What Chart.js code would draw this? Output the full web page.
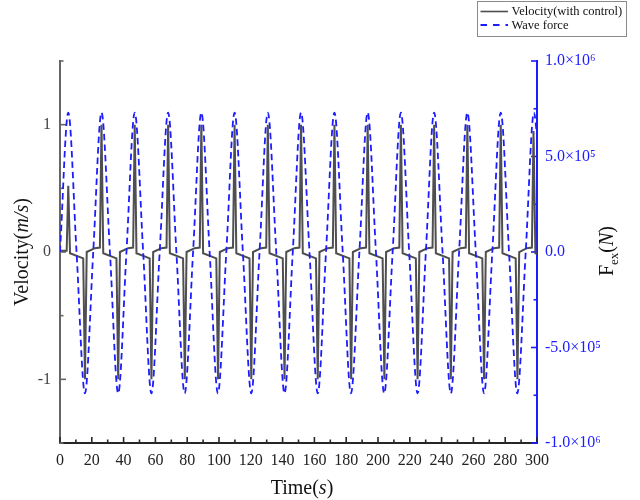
<!DOCTYPE html>
<html>
<head>
<meta charset="utf-8">
<script src="https://cdn.jsdelivr.net/npm/chart.js@4/dist/chart.umd.min.js"></script>
<style>
  html, body { margin: 0; padding: 0; background: #fff; }
  canvas { display: block; }
</style>
</head>
<body>
<canvas id="chart" width="640" height="500"></canvas>
<script>
// Heave velocity under latching control (m/s) and the excitation wave force (N) over 300 s.

// Velocity with control: time (s) and value (m/s)
const velTime = [
  0, 4.2, 5.2, 6.3, 14.6, 15.7, 16.8,
  21.9, 25.1, 26.1, 27.2, 35.5, 36.6, 37.7,
  42.8, 46.0, 47.0, 48.1, 56.4, 57.5, 58.6,
  63.8, 67.0, 68.0, 69.1, 77.4, 78.5, 79.6,
  84.7, 87.9, 88.9, 90.0, 98.3, 99.4, 100.5,
  105.6, 108.8, 109.8, 110.9, 119.2, 120.3, 121.4,
  126.5, 129.7, 130.7, 131.8, 140.1, 141.2, 142.3,
  147.4, 150.6, 151.6, 152.7, 161.0, 162.1, 163.2,
  168.4, 171.6, 172.6, 173.7, 182.0, 183.1, 184.2,
  189.3, 192.5, 193.5, 194.6, 202.9, 204.0, 205.1,
  210.2, 213.4, 214.4, 215.5, 223.8, 224.9, 226.0,
  231.1, 234.3, 235.3, 236.4, 244.7, 245.8, 246.9,
  252.0, 255.2, 256.2, 257.3, 265.6, 266.7, 267.8,
  273.0, 276.2, 277.2, 278.3, 286.6, 287.7, 288.8,
  293.6, 296.8, 297.8, 299.0, 300
];
const velValue = [
  0.01, 0.01, 0.52, -0.01, -0.05, -1.0, 0.0,
  0.03, 0.035, 1.0, -0.01, -0.05, -1.0, 0.0,
  0.03, 0.035, 1.0, -0.01, -0.05, -1.0, 0.0,
  0.03, 0.035, 1.0, -0.01, -0.05, -1.0, 0.0,
  0.03, 0.035, 1.0, -0.01, -0.05, -1.0, 0.0,
  0.03, 0.035, 1.0, -0.01, -0.05, -1.0, 0.0,
  0.03, 0.035, 1.0, -0.01, -0.05, -1.0, 0.0,
  0.03, 0.035, 1.0, -0.01, -0.05, -1.0, 0.0,
  0.03, 0.035, 1.0, -0.01, -0.05, -1.0, 0.0,
  0.03, 0.035, 1.0, -0.01, -0.05, -1.0, 0.0,
  0.03, 0.035, 1.0, -0.01, -0.05, -1.0, 0.0,
  0.03, 0.035, 1.0, -0.01, -0.05, -1.0, 0.0,
  0.03, 0.035, 1.0, -0.01, -0.05, -1.0, 0.0,
  0.03, 0.035, 1.0, -0.01, -0.05, -1.0, 0.0,
  0.03, 0.035, 0.95, -0.01, -0.015
];

// Wave force: crests, troughs and zero crossings, time (s) and value (N)
const forceTime = [
  0, 5.2, 10.4, 15.7, 20.9, 26.1, 31.4, 36.6, 41.8, 47.0, 52.3, 57.5, 62.7,
  68.0, 73.2, 78.4, 83.7, 88.9, 94.1, 99.3, 104.6, 109.8, 115.0, 120.3, 125.5,
  130.7, 136.0, 141.2, 146.4, 151.6, 156.9, 162.1, 167.3, 172.6, 177.8, 183.0,
  188.3, 193.5, 198.7, 203.9, 209.2, 214.4, 219.6, 224.9, 230.1, 235.3, 240.6,
  245.8, 251.0, 256.2, 261.5, 266.7, 271.9, 277.2, 282.4, 287.6, 292.9, 298.1, 300
];
const forceValue = [
  0, 7.3e5, 0, -7.4e5, 0, 7.3e5, 0, -7.4e5, 0, 7.3e5, 0, -7.4e5, 0,
  7.3e5, 0, -7.4e5, 0, 7.3e5, 0, -7.4e5, 0, 7.3e5, 0, -7.4e5, 0,
  7.3e5, 0, -7.4e5, 0, 7.3e5, 0, -7.4e5, 0, 7.3e5, 0, -7.4e5,
  0, 7.3e5, 0, -7.4e5, 0, 7.3e5, 0, -7.4e5, 0, 7.3e5, 0,
  -7.4e5, 0, 7.3e5, 0, -7.4e5, 0, 7.3e5, 0, -7.4e5, 0, 7.3e5, 6.1e5
];

// Tick labels
const timeTicks = [0, 20, 40, 60, 80, 100, 120, 140, 160, 180, 200, 220, 240, 260, 280, 300];
const velTicks = [-1, 0, 1];
const velTickLabels = ['-1', '0', '1'];
const forceTicks = [-1e6, -5e5, 0, 5e5, 1e6];
const forceTickLabels = ['-1.0×10⁶', '-5.0×10⁵', '0.0', '5.0×10⁵', '1.0×10⁶'];

const SERIF = "'Liberation Serif', 'Times New Roman', serif";
const VEL_COLOR = '#4f4f4f';
const FORCE_COLOR = 'rgb(28,28,255)';
const AXIS_GREY = '#666666';
const AXIS_DARK = '#262626';

function labelFor(values, labels, v) {
  const i = values.findIndex(t => Math.abs(t - v) < 1e-6 * Math.max(1, Math.abs(t)));
  return i >= 0 ? labels[i] : '';
}

// Inward tick marks (major + minor) on the three axes
const innerTicks = {
  id: 'innerTicks',
  beforeDatasetsDraw(chart) {
    const { ctx, chartArea: a, scales } = chart;
    const marks = (scale, minorStep, majorStep, draw) => {
      const n = Math.round((scale.max - scale.min) / minorStep);
      for (let i = 0; i <= n; i++) {
        const v = scale.min + i * minorStep;
        const major = Math.abs(Math.round(v / majorStep) * majorStep - v) < minorStep * 1e-3;
        draw(scale.getPixelForValue(v), major ? 6 : 3.5);
      }
    };
    ctx.save();
    ctx.lineWidth = 1.6;
    ctx.strokeStyle = AXIS_DARK;
    marks(scales.x, 10, 20, (p, len) => {
      ctx.beginPath(); ctx.moveTo(p, a.bottom); ctx.lineTo(p, a.bottom - len); ctx.stroke();
    });
    ctx.strokeStyle = AXIS_GREY;
    marks(scales.y, 0.5, 1, (p, len) => {
      ctx.beginPath(); ctx.moveTo(a.left, p); ctx.lineTo(a.left + len, p); ctx.stroke();
    });
    ctx.strokeStyle = FORCE_COLOR;
    marks(scales.y2, 2.5e5, 5e5, (p, len) => {
      ctx.beginPath(); ctx.moveTo(a.right, p); ctx.lineTo(a.right - len, p); ctx.stroke();
    });
    ctx.restore();
  }
};

function drawRuns(ctx, runs, cx, cy, angle) {
  ctx.save();
  ctx.translate(cx, cy);
  ctx.rotate(angle);
  let total = 0;
  runs.forEach(r => { ctx.font = r.font; r.w = ctx.measureText(r.text).width; total += r.w; });
  let x = -total / 2;
  ctx.textAlign = 'left';
  ctx.textBaseline = 'alphabetic';
  runs.forEach(r => {
    ctx.font = r.font;
    ctx.fillStyle = r.color || '#111';
    ctx.fillText(r.text, x, 7 + (r.dy || 0));
    x += r.w;
  });
  ctx.restore();
}

// Axis titles with italic units and subscript
const axisTitles = {
  id: 'axisTitles',
  afterDraw(chart) {
    const ctx = chart.ctx;
    const up = `20px ${SERIF}`;
    const it = `italic 20px ${SERIF}`;
    drawRuns(ctx, [
      { text: 'Velocity(', font: up },
      { text: 'm/s', font: it },
      { text: ')', font: up }
    ], 21, 252, -Math.PI / 2);
    drawRuns(ctx, [
      { text: 'Time(', font: up },
      { text: 's', font: it },
      { text: ')', font: up }
    ], 302, 487, 0);
    drawRuns(ctx, [
      { text: 'F', font: up },
      { text: 'ex', font: `13px ${SERIF}`, dy: 5 },
      { text: '(', font: up },
      { text: 'N', font: it },
      { text: ')', font: up }
    ], 606, 251, -Math.PI / 2);
  }
};

// Framed legend in the top-right corner
const boxLegend = {
  id: 'boxLegend',
  afterDraw(chart) {
    const ctx = chart.ctx;
    const ds = chart.data.datasets;
    ctx.save();
    ctx.strokeStyle = '#8a8a8a';
    ctx.lineWidth = 1;
    ctx.strokeRect(477.5, 1.5, 149, 35);
    const rows = [11.5, 25];
    ds.forEach((d, i) => {
      const y = rows[i];
      ctx.beginPath();
      ctx.setLineDash(d.borderDash ? [6.5, 6] : []);
      ctx.strokeStyle = d.borderColor;
      ctx.lineWidth = d.borderDash ? 1.8 : 1.6;
      ctx.moveTo(480.5, y);
      ctx.lineTo(508, y);
      ctx.stroke();
      ctx.setLineDash([]);
      ctx.fillStyle = '#111';
      ctx.font = `12.5px ${SERIF}`;
      ctx.textAlign = 'left';
      ctx.textBaseline = 'middle';
      ctx.fillText(d.label, 511.5, y + 0.5);
    });
    ctx.restore();
  }
};

const velPoints = velTime.map((t, i) => ({ x: t, y: velValue[i] }));
const forcePoints = forceTime.map((t, i) => ({ x: t, y: forceValue[i] }));

new Chart(document.getElementById('chart'), {
  type: 'line',
  data: {
    datasets: [
      {
        label: 'Velocity(with control)',
        data: velPoints,
        yAxisID: 'y',
        borderColor: VEL_COLOR,
        borderWidth: 2,
        pointRadius: 0,
        tension: 0,
        order: 1
      },
      {
        label: 'Wave force',
        data: forcePoints,
        yAxisID: 'y2',
        borderColor: FORCE_COLOR,
        borderWidth: 1.8,
        borderDash: [6.5, 4],
        pointRadius: 0,
        cubicInterpolationMode: 'monotone',
        order: 0
      }
    ]
  },
  options: {
    responsive: false,
    animation: false,
    devicePixelRatio: 1,
    layout: { padding: { top: 61, left: 0, right: 0, bottom: 0 } },
    plugins: {
      legend: { display: false },
      tooltip: { enabled: false }
    },
    scales: {
      x: {
        type: 'linear',
        min: 0,
        max: 300,
        afterFit: s => { s.height = 57; },
        afterBuildTicks: s => { s.ticks = timeTicks.map(v => ({ value: v })); },
        grid: { display: false, drawTicks: false },
        border: { display: true, color: AXIS_DARK, width: 2 },
        ticks: {
          padding: 8,
          maxRotation: 0,
          autoSkip: false,
          color: '#222',
          font: { family: SERIF, size: 16 },
          callback: v => String(v)
        }
      },
      y: {
        type: 'linear',
        position: 'left',
        min: -1.5,
        max: 1.5,
        afterFit: s => { s.width = 60; },
        afterBuildTicks: s => { s.ticks = velTicks.map(v => ({ value: v })); },
        grid: { display: false, drawTicks: false },
        border: { display: true, color: AXIS_GREY, width: 2 },
        ticks: {
          padding: 9,
          color: '#444',
          font: { family: SERIF, size: 16 },
          callback: v => labelFor(velTicks, velTickLabels, v)
        }
      },
      y2: {
        type: 'linear',
        position: 'right',
        min: -1e6,
        max: 1e6,
        afterFit: s => { s.width = 103; },
        afterBuildTicks: s => { s.ticks = forceTicks.map(v => ({ value: v })); },
        grid: { display: false, drawTicks: false },
        border: { display: true, color: FORCE_COLOR, width: 2 },
        ticks: {
          padding: 8,
          color: FORCE_COLOR,
          font: { family: SERIF, size: 16 },
          callback: v => labelFor(forceTicks, forceTickLabels, v)
        }
      }
    }
  },
  plugins: [innerTicks, axisTitles, boxLegend]
});
</script>
</body>
</html>
